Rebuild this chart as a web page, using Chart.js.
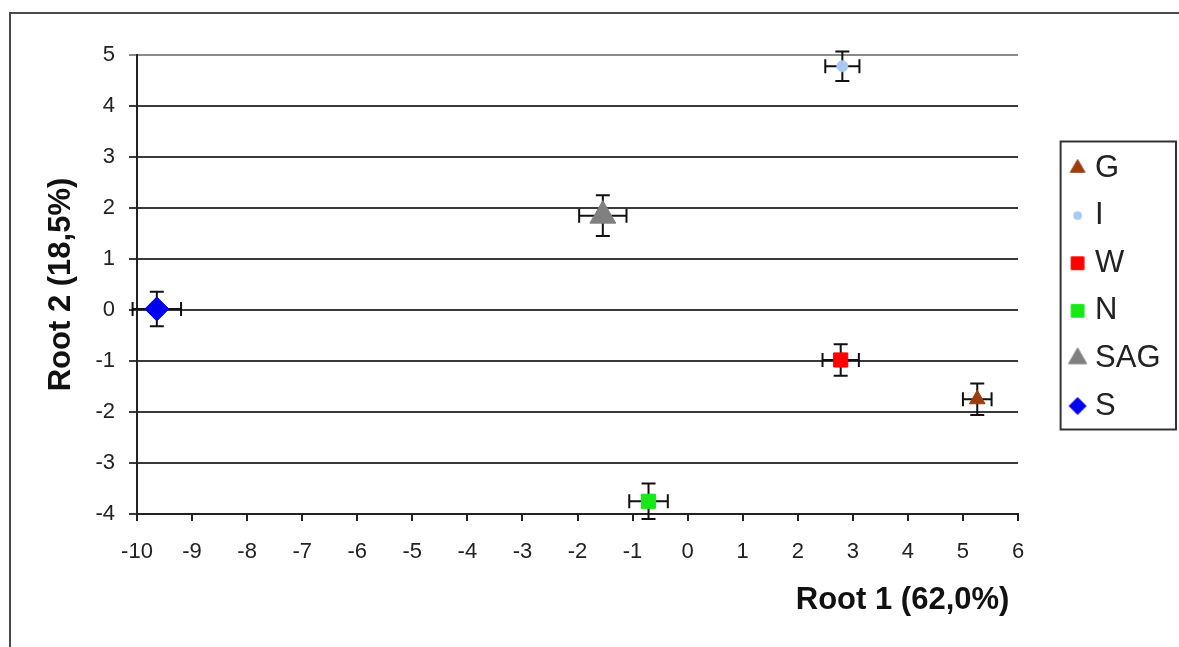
<!DOCTYPE html>
<html>
<head>
<meta charset="utf-8">
<script src="https://cdn.jsdelivr.net/npm/chart.js@4"></script>
<style>
  html, body { margin: 0; padding: 0; background: #fff; overflow: hidden; }
  #frame { position: absolute; left: 9px; top: 12px; width: 1400px; height: 900px;
           border-left: 2px solid #4a4a4a; border-top: 2px solid #4a4a4a; }
  #wrap { position: absolute; left: 0; top: 0; width: 1179px; height: 647px; }
</style>
</head>
<body>
<div id="frame"></div>
<div id="wrap"><canvas id="rootChart" width="1179" height="647"></canvas></div>
<script>
// data
const groups  = ['G', 'I', 'W', 'N', 'SAG', 'S'];
const root1   = [5.26, 2.81, 2.78, -0.71, -1.54, -9.64];
const root2   = [-1.75, 4.78, -0.98, -3.75, 1.85, 0.02];
const root1Err = [0.26, 0.31, 0.33, 0.35, 0.43, 0.44];
const root2Err = [0.31, 0.29, 0.31, 0.35, 0.40, 0.34];
const xTicks = [-10, -9, -8, -7, -6, -5, -4, -3, -2, -1, 0, 1, 2, 3, 4, 5, 6];
const yTicks = [-4, -3, -2, -1, 0, 1, 2, 3, 4, 5];

// marker styles
const colors   = ['#9a3d0f', '#a9c9f2', '#ff0000', '#18e818', '#808080', '#0000f0'];
const shapes   = ['triangle', 'circle', 'rect', 'rect', 'triangle', 'rectRot'];
const radii    = [9, 5.5, 10, 10, 15, 12];
const legRadii = [8.5, 4, 9, 9, 10.5, 8.5];

Chart.defaults.font.family = "'Liberation Sans', Arial, sans-serif";
Chart.defaults.color = '#222';

// little legend icons drawn with the chart's own point helper
function makeIcon(shape, color, r) {
    const c = document.createElement('canvas');
    c.width = 26; c.height = 26;
    const g = c.getContext('2d');
    g.fillStyle = color; g.strokeStyle = color; g.lineWidth = 1;
    Chart.helpers.drawPoint(g, { pointStyle: shape, radius: r, rotation: 0, borderWidth: 1 }, 13, 13);
    return c;
}
const legendIcons = groups.map((g, i) => makeIcon(shapes[i], colors[i], legRadii[i]));

// error bars (whiskers) using the scales
const errorBars = {
    id: 'errorBars',
    beforeDatasetsDraw(chart) {
        const c = chart.ctx, xs = chart.scales.x, ys = chart.scales.y;
        const cap = 7;
        c.save();
        c.strokeStyle = '#111';
        c.lineWidth = 2;
        groups.forEach((g, i) => {
            const px = xs.getPixelForValue(root1[i]), py = ys.getPixelForValue(root2[i]);
            const x1 = xs.getPixelForValue(root1[i] - root1Err[i]);
            const x2 = xs.getPixelForValue(root1[i] + root1Err[i]);
            const y1 = ys.getPixelForValue(root2[i] + root2Err[i]);
            const y2 = ys.getPixelForValue(root2[i] - root2Err[i]);
            c.beginPath();
            c.moveTo(x1, py); c.lineTo(x2, py);
            c.moveTo(x1, py - cap); c.lineTo(x1, py + cap);
            c.moveTo(x2, py - cap); c.lineTo(x2, py + cap);
            c.moveTo(px, y1); c.lineTo(px, y2);
            c.moveTo(px - cap, y1); c.lineTo(px + cap, y1);
            c.moveTo(px - cap, y2); c.lineTo(px + cap, y2);
            c.stroke();
        });
        c.restore();
    }
};

// legend placement and its frame
const legendBox = {
    id: 'legendBox',
    beforeLayout(chart) {
        const lg = chart.legend;
        if (lg && !lg._patched) {
            const fit = lg.fit.bind(lg);
            lg.fit = function () { fit(); this.width = 158; };
            lg._patched = true;
        }
    },
    afterLayout(chart) {
        const lg = chart.legend;
        lg.left = chart.chartArea.right + 41;
        lg.top -= 50;
        lg.bottom -= 50;
    },
    afterDraw(chart) {
        const hb = chart.legend.legendHitBoxes;
        if (!hb || !hb.length) return;
        const first = hb[0], last = hb[hb.length - 1];
        const c = chart.ctx;
        const l = first.left - 15, t = first.top - 11, b = last.top + last.height + 8;
        c.save();
        c.strokeStyle = '#333';
        c.lineWidth = 2;
        c.strokeRect(l, t, 1176 - l, b - t);
        c.restore();
    }
};

const ctx = document.getElementById('rootChart').getContext('2d');
const rootChart = new Chart(ctx, {
    type: 'scatter',
    data: {
        datasets: groups.map((g, i) => ({
            label: g,
            data: [{ x: root1[i], y: root2[i] }],
            pointStyle: shapes[i],
            pointRadius: radii[i],
            pointHoverRadius: radii[i],
            backgroundColor: colors[i],
            borderColor: colors[i],
            borderWidth: 1
        }))
    },
    options: {
        responsive: false,
        animation: false,
        layout: { padding: { left: 43, top: 55, right: 3, bottom: 28 } },
        plugins: {
            tooltip: { enabled: false },
            legend: {
                position: 'right',
                labels: {
                    usePointStyle: true,
                    boxWidth: 4,
                    boxHeight: 12,
                    padding: 16.6,
                    color: '#222',
                    font: { size: 31 },
                    generateLabels(chart) {
                        const items = Chart.defaults.plugins.legend.labels.generateLabels(chart);
                        items.forEach((it, i) => { it.pointStyle = legendIcons[i]; });
                        return items;
                    }
                }
            }
        },
        scales: {
            x: {
                type: 'linear',
                min: xTicks[0],
                max: xTicks[xTicks.length - 1],
                afterBuildTicks(s) { s.ticks = xTicks.map(v => ({ value: v })); },
                afterFit(s) { s.height = 647 - 28 - 514; },
                grid: { drawOnChartArea: false, drawTicks: true, tickLength: 7, color: '#222', lineWidth: 2 },
                border: { display: true, color: '#222', width: 2 },
                ticks: { padding: 18, font: { size: 22 }, color: '#222', maxRotation: 0 },
                title: { display: true, text: 'Root 1 (62,0%) ', align: 'end', padding: 0,
                         font: { size: 31, weight: 'bold' }, color: '#111' }
            },
            y: {
                type: 'linear',
                min: yTicks[0],
                max: yTicks[yTicks.length - 1],
                afterBuildTicks(s) { s.ticks = yTicks.map(v => ({ value: v })); },
                afterFit(s) { s.width = 137 - 43; },
                grid: {
                    drawTicks: true, tickLength: 8, lineWidth: 2,
                    color: c => (c.tick && c.tick.value === 5) ? '#8a8a8a' : '#3a3a3a'
                },
                border: { display: true, color: '#222', width: 2 },
                ticks: { padding: 14, font: { size: 22 }, color: '#222' },
                title: { display: true, text: 'Root 2 (18,5%)', padding: 0,
                         font: { size: 31, weight: 'bold' }, color: '#111' }
            }
        }
    },
    plugins: [errorBars, legendBox]
});
</script>
</body>
</html>
